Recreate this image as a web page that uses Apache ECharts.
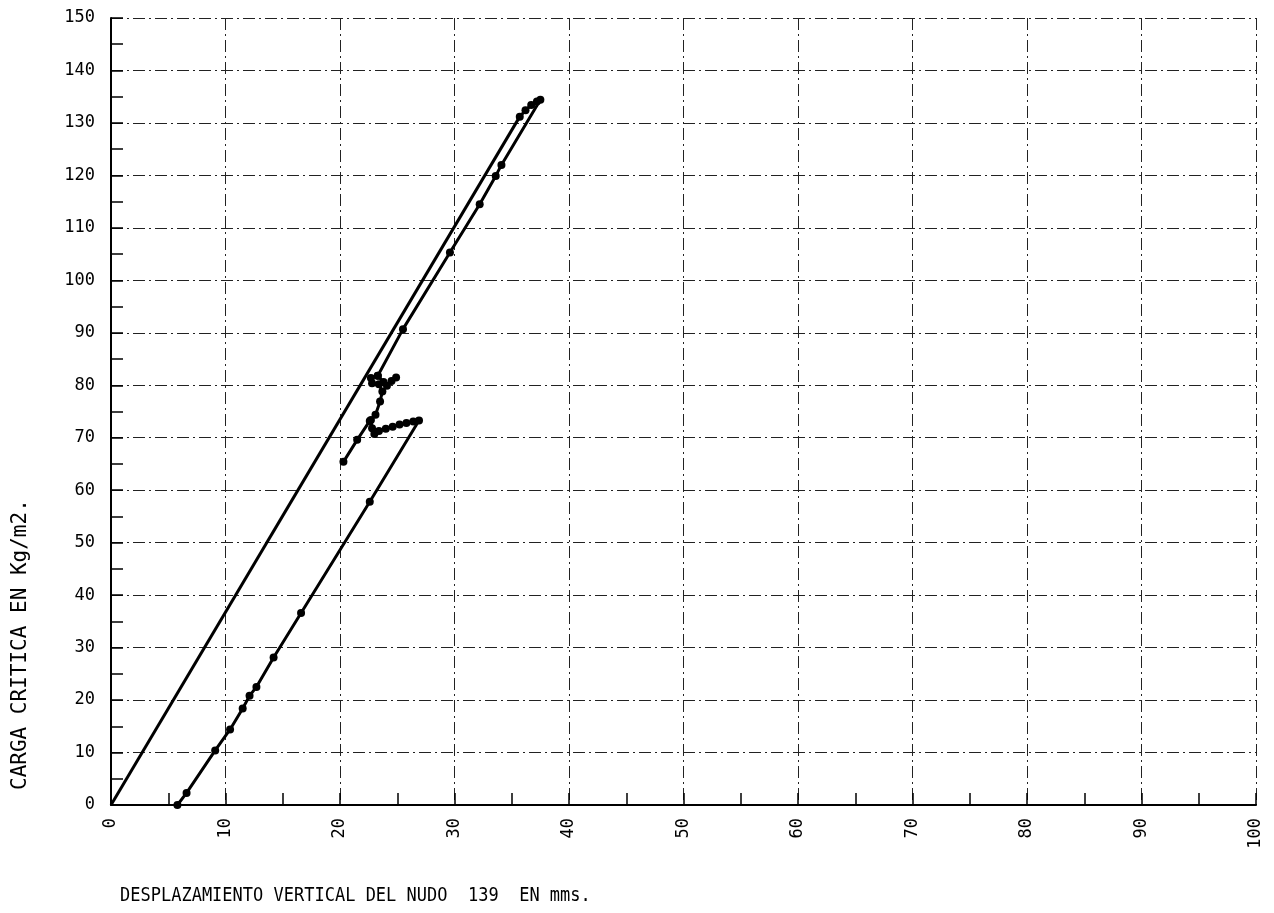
<!DOCTYPE html>
<html>
<head>
<meta charset="utf-8">
<script src="https://cdn.jsdelivr.net/npm/echarts@6/dist/echarts.min.js"></script>
<style>
  html, body { margin: 0; padding: 0; background: #fff; }
  #chart { width: 1274px; height: 913px; }
</style>
</head>
<body>
<div id="chart"></div>
<script>
// tramo inferior (con marcas) y vuelta ondulada
var lowerX = [5.8, 6.6, 9.1, 10.4, 11.5, 12.1, 12.7, 14.2, 16.6, 22.6, 26.9, 26.4, 25.8, 25.2, 24.6, 24.0, 23.4, 23.0, 22.8, 22.7];
var lowerY = [0, 2.3, 10.4, 14.4, 18.4, 20.8, 22.5, 28.1, 36.6, 57.8, 73.3, 73.1, 72.8, 72.5, 72.1, 71.7, 71.3, 70.7, 71.8, 73.4];
// tramo del zigzag central
var zigX = [20.3, 21.5, 22.6, 23.1, 23.5, 23.7, 23.4, 22.8, 22.7, 23.3, 23.8, 24.1, 24.5, 24.9];
var zigY = [65.4, 69.6, 73.2, 74.4, 76.9, 78.8, 80.2, 80.4, 81.4, 81.8, 80.6, 79.9, 80.8, 81.5];
// tramo superior (con marcas)
var upperX = [23.3, 25.5, 29.6, 32.2, 33.6, 34.1, 37.5, 37.2, 36.7, 36.2, 35.7];
var upperY = [81.8, 90.7, 105.3, 114.5, 119.9, 122.0, 134.4, 134.1, 133.4, 132.4, 131.2];
// descarga (linea sin marcas)
var plainX = [35.7, 0];
var plainY = [131.2, 0];

var xTicks = [0, 10, 20, 30, 40, 50, 60, 70, 80, 90, 100];
var yTicks = [0, 10, 20, 30, 40, 50, 60, 70, 80, 90, 100, 110, 120, 130, 140, 150];

function zip(xs, ys) {
  return xs.map(function (v, i) { return [v, ys[i]]; });
}

var FONT = "DejaVu Sans Mono";
var gridLine = { color: "#222", width: 1, type: [12, 4, 2, 4] };

var myChart = echarts.init(document.getElementById("chart"));
var lineSeries = function (data, marks) {
  return {
    type: "line",
    data: data,
    symbol: marks ? "circle" : "none",
    symbolSize: 8,
    showAllSymbol: true,
    itemStyle: { color: "#000" },
    lineStyle: { color: "#000", width: 3 },
    z: 5,
  };
};

var option = {
  animation: false,
  backgroundColor: "#fff",
  grid: { left: 111, right: 18, top: 18, bottom: 108 },
  xAxis: {
    type: "value",
    min: xTicks[0],
    max: xTicks[xTicks.length - 1],
    interval: 10,
    axisLine: { show: true, lineStyle: { color: "#000", width: 2 } },
    axisTick: { show: true, inside: true, length: 12, lineStyle: { color: "#000", width: 1.5 } },
    minorTick: { show: true, splitNumber: 2, length: 12, lineStyle: { color: "#000", width: 1.5 } },
    splitLine: { show: true, lineStyle: gridLine },
    axisLabel: {
      rotate: 90,
      margin: 13,
      color: "#000",
      fontFamily: FONT,
      fontSize: 17,
    },
  },
  yAxis: {
    type: "value",
    min: yTicks[0],
    max: yTicks[yTicks.length - 1],
    interval: 10,
    axisLine: { show: true, lineStyle: { color: "#000", width: 2 } },
    axisTick: { show: true, inside: true, length: 12, lineStyle: { color: "#000", width: 1.5 } },
    minorTick: { show: true, splitNumber: 2, length: 12, lineStyle: { color: "#000", width: 1.5 } },
    splitLine: { show: true, lineStyle: gridLine },
    axisLabel: {
      margin: 16,
      color: "#000",
      fontFamily: FONT,
      fontSize: 17,
    },
  },
  graphic: [
    {
      type: "text",
      left: 120,
      top: 886,
      scaleX: 0.85,
      style: {
        text: "DESPLAZAMIENTO VERTICAL DEL NUDO  139  EN mms.",
        fill: "#000",
        font: "20px '" + FONT + "'",
      },
    },
    {
      type: "text",
      x: 10,
      y: 790,
      rotation: Math.PI / 2,
      style: {
        text: "CARGA CRITICA EN Kg/m2.",
        fill: "#000",
        font: "21px '" + FONT + "'",
      },
    },
  ],
  series: [
    lineSeries(zip(lowerX, lowerY), true),
    lineSeries(zip(zigX, zigY), true),
    lineSeries(zip(upperX, upperY), true),
    lineSeries(zip(plainX, plainY), false),
  ],
};
myChart.setOption(option);
</script>
</body>
</html>
